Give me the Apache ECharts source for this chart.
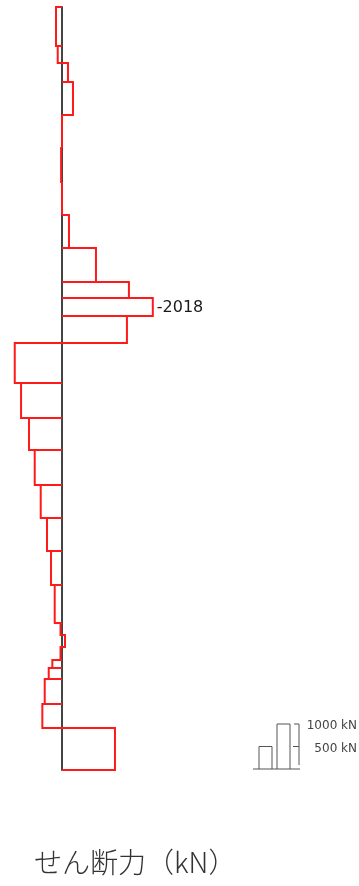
<!DOCTYPE html>
<html>
<head>
<meta charset="utf-8">
<script src="https://cdn.jsdelivr.net/npm/echarts@6/dist/echarts.min.js"></script>
<style>
  html, body { margin: 0; padding: 0; background: #ffffff; }
  #chart { width: 359px; height: 886px; }
</style>
</head>
<body>
<div id="chart"></div>
<script>
// Storey boundaries, measured downward from the top of the diagram (m)
const depthBounds = [0, 3.9, 5.6, 7.5, 10.8, 14.1, 17.5, 20.8, 24.1, 27.5, 29.1, 30.9,
  33.6, 37.6, 41.1, 44.3, 47.8, 51.1, 54.4, 57.8, 61.6, 62.8, 64.0, 65.3, 66.1, 67.2,
  69.7, 72.1, 76.3];
// Shear force in each segment (kN); positive values are drawn to the left
const shearKN = [133, 95, -133, -244, 0, 20, 0, -155, -755, -1487, -2018, -1443,
  1050, 910, 733, 606, 473, 333, 244, 162, 33, -67, 33, 215, 295, 384, 437, -1177];
// Scale key
const scaleValues = [500, 1000];
const scaleLabels = ['500 kN', '1000 kN'];
const titleText = 'せん断力（kN）';

const X_MIN = -5000, X_MAX = 1000;
const GRID = { left: 17, top: 7, width: 270, height: 763, outerBoundsMode: 'none' };
const pxPerKN = GRID.width / (X_MAX - X_MIN);

const segments = shearKN.map((v, i) => [depthBounds[i], depthBounds[i + 1], v, i]);
let peakIdx = 0;
shearKN.forEach((v, i) => { if (Math.abs(v) > Math.abs(shearKN[peakIdx])) peakIdx = i; });

function renderSegment(params, api) {
  const y0 = api.value(0), y1 = api.value(1), v = api.value(2), idx = api.value(3);
  const a = api.coord([0, y0]);
  const b = api.coord([v, y0]);
  const c = api.coord([v, y1]);
  const d = api.coord([0, y1]);
  const children = [{
    type: 'polyline',
    shape: { points: [a, b, c, d] },
    style: { stroke: '#ff1a1a', fill: null, lineWidth: 2 }
  }];
  if (idx === peakIdx) {
    children.push({
      type: 'text',
      x: c[0] + 4,
      y: (b[1] + c[1]) / 2 + 1,
      style: {
        text: String(v),
        fill: '#1a1a1a',
        fontSize: 16,
        fontFamily: 'DejaVu Sans, sans-serif',
        textAlign: 'left',
        textVerticalAlign: 'middle'
      }
    });
  }
  return { type: 'group', children };
}

// Scale key: two bars of known force, a bracket and labels
const keyBase = 769, keyLeft = 253;
const keyGraphics = [
  { type: 'line', shape: { x1: keyLeft, y1: keyBase, x2: keyLeft + 47, y2: keyBase },
    style: { stroke: '#555', lineWidth: 1 } }
];
const barX = [259, 277];
scaleValues.forEach((val, i) => {
  const h = val * pxPerKN;
  keyGraphics.push({
    type: 'polyline',
    shape: { points: [[barX[i], keyBase], [barX[i], keyBase - h], [barX[i] + 13, keyBase - h], [barX[i] + 13, keyBase]] },
    style: { stroke: '#555', fill: null, lineWidth: 1 }
  });
});
const topH = scaleValues[1] * pxPerKN, midH = scaleValues[0] * pxPerKN;
keyGraphics.push(
  { type: 'line', shape: { x1: 299, y1: keyBase - topH, x2: 299, y2: keyBase - 4 },
    style: { stroke: '#555', lineWidth: 1 } },
  { type: 'line', shape: { x1: 294, y1: keyBase - topH, x2: 299, y2: keyBase - topH },
    style: { stroke: '#555', lineWidth: 1 } },
  { type: 'line', shape: { x1: 293, y1: keyBase - midH, x2: 299, y2: keyBase - midH },
    style: { stroke: '#555', lineWidth: 1 } }
);
scaleValues.forEach((val, i) => {
  keyGraphics.push({
    type: 'text',
    x: 357,
    y: keyBase - val * pxPerKN + 2,
    style: {
      text: scaleLabels[i],
      fill: '#444',
      fontSize: 12,
      fontFamily: 'DejaVu Sans, sans-serif',
      textAlign: 'right',
      textVerticalAlign: 'middle'
    }
  });
});
keyGraphics.push({
  type: 'text',
  x: 34,
  y: 862,
  style: {
    text: titleText,
    fill: '#333',
    fontSize: 28,
    fontWeight: 300,
    fontFamily: 'Noto Sans CJK JP, sans-serif',
    textAlign: 'left',
    textVerticalAlign: 'middle'
  }
});

const chart = echarts.init(document.getElementById('chart'), null, { renderer: 'canvas' });
chart.setOption({
  animation: false,
  backgroundColor: '#ffffff',
  grid: GRID,
  xAxis: {
    type: 'value', min: X_MIN, max: X_MAX, inverse: true,
    axisLine: { show: false }, axisTick: { show: false },
    axisLabel: { show: false }, splitLine: { show: false }
  },
  yAxis: {
    type: 'value', min: 0, max: depthBounds[depthBounds.length - 1], inverse: true,
    axisLine: { show: true, onZero: true, lineStyle: { color: '#444', width: 2 } },
    axisTick: { show: false }, axisLabel: { show: false }, splitLine: { show: false }
  },
  series: [{
    type: 'custom',
    renderItem: renderSegment,
    encode: { x: 2, y: [0, 1] },
    data: segments,
    clip: false
  }],
  graphic: keyGraphics
});
</script>
</body>
</html>
